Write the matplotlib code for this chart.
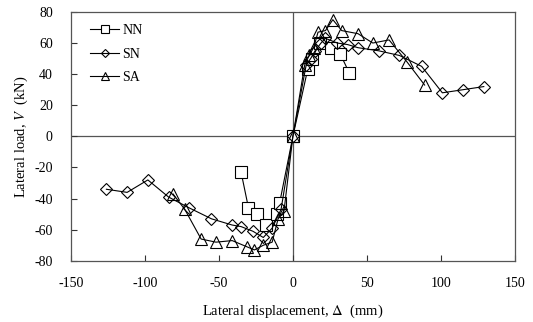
import numpy as np
import matplotlib
matplotlib.use("Agg")
import matplotlib.pyplot as plt

plt.rcParams['font.family'] = 'Liberation Serif'
plt.rcParams['mathtext.fontset'] = 'stix'
plt.rcParams['axes.unicode_minus'] = False

# NN specimen
nn_x = [-35, -30, -24, -18, -11, -9, 0, 10, 13, 18, 26, 32, 38]
nn_y = [-23, -46, -50, -57, -50, -43, 0, 43, 50, 60, 57, 53, 41]

# SN specimen
sn_x = [-126, -112, -98, -84, -70, -55, -41, -35, -27, -20, -14, -8, 0,
        9, 12, 15, 19, 22, 30, 37, 44, 58, 72, 87, 101, 115, 129]
sn_y = [-34, -36, -28, -39, -46, -53, -57, -58, -61, -65, -59, -47, 0,
        46, 50, 55, 60, 63, 60, 59, 57, 55, 52, 45, 28, 30, 32]

# SA specimen
sa_x = [-81, -73, -62, -52, -41, -31, -26, -20, -14, -10, -6, 0,
        8, 11, 14, 17, 22, 27, 33, 44, 54, 65, 77, 89]
sa_y = [-37, -47, -66, -68, -67, -71, -73, -70, -68, -53, -48, 0,
        46, 52, 57, 67, 68, 75, 68, 66, 60, 62, 48, 33]

fig = plt.figure(figsize=(5.33, 3.22), dpi=100)
ax = fig.add_axes([0.133, 0.19, 0.833, 0.773])

ax.axhline(0, color='#555555', lw=0.9, zorder=1)
ax.axvline(0, color='#555555', lw=0.9, zorder=1)

ax.plot(nn_x, nn_y, '-s', color='black', lw=0.8, ms=8, mfc='white', mec='black', mew=0.8, label='NN')
ax.plot(sn_x, sn_y, '-D', color='black', lw=0.8, ms=6.5, mfc='none', mec='black', mew=0.8, label='SN')
ax.plot(sa_x, sa_y, '-^', color='black', lw=0.8, ms=9, mfc='none', mec='black', mew=0.8, label='SA')

ax.set_xlim(-150, 150)
ax.set_ylim(-80, 80)
ax.set_xticks(np.arange(-150, 151, 50))
ax.set_yticks(np.arange(-80, 81, 20))
ax.tick_params(direction='in', labelsize=10, length=4, width=0.8, color='#333333')
ax.tick_params(axis='x', pad=12)
ax.tick_params(axis='y', pad=13)
for s in ax.spines.values():
    s.set_color('#555555')
    s.set_linewidth(0.9)

ax.set_xlabel(r'Lateral displacement, $\mathit{\Delta}$  (mm)', fontsize=10.5, labelpad=9)
ax.set_ylabel(r'Lateral load, $\mathit{V}$  (kN)', fontsize=10.5, labelpad=3)

ax.legend(loc='upper left', bbox_to_anchor=(0.043, 0.95), frameon=False, fontsize=10,
          handlelength=2.1, borderaxespad=0, borderpad=0, labelspacing=0.75,
          handletextpad=0.25, markerscale=0.65)

fig.savefig('out.png', dpi=100)
